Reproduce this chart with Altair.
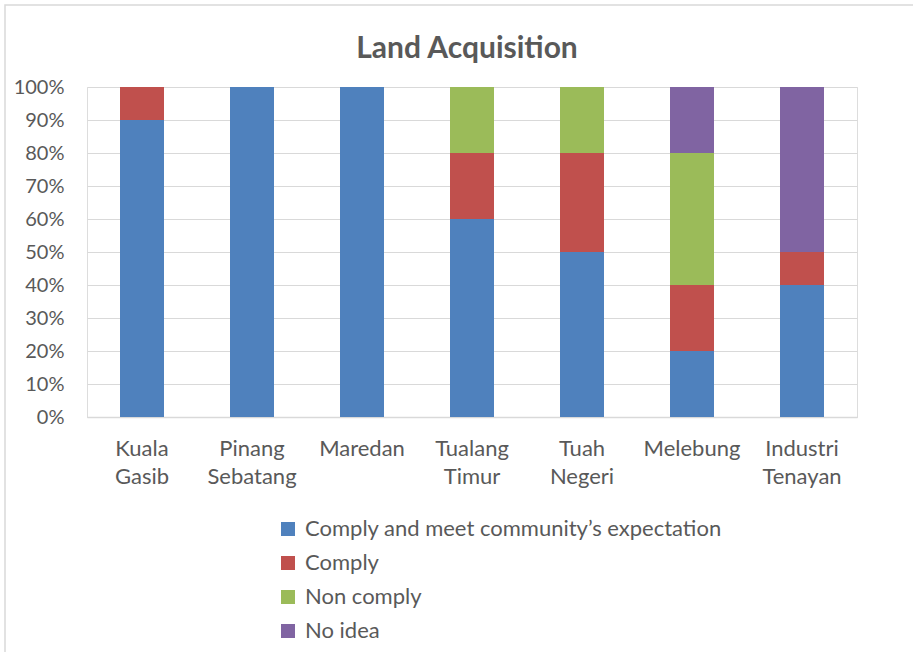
import altair as alt
import pandas as pd

title_text = "Land Acquisition"
sites = ["Kuala Gasib", "Pinang Sebatang", "Maredan", "Tualang Timur",
         "Tuah Negeri", "Melebung", "Industri Tenayan"]
categories = ["Comply and meet community\u2019s expectation", "Comply",
              "Non comply", "No idea"]
comply_meet = [90, 100, 100, 60, 50, 20, 40]
comply = [10, 0, 0, 20, 30, 20, 10]
non_comply = [0, 0, 0, 20, 20, 40, 0]
no_idea = [0, 0, 0, 0, 0, 20, 50]
colors = ["#4F81BD", "#C0504D", "#9BBB59", "#8064A2"]

series = [comply_meet, comply, non_comply, no_idea]
rows = []
for ci, (cat, vals) in enumerate(zip(categories, series)):
    for s, v in zip(sites, vals):
        rows.append({"site": s, "category": cat, "order": ci, "value": v / 100})
df = pd.DataFrame(rows)

FONT = "Lato"
GRAY = "#595959"

bars = alt.Chart(df).mark_bar().encode(
    x=alt.X("site:N", sort=sites, title=None,
            scale=alt.Scale(paddingInner=0.6, paddingOuter=0.3),
            axis=alt.Axis(labelAngle=0, labelExpr="split(datum.label, ' ')",
                          labelLineHeight=28, labelPadding=21, ticks=False,
                          domainColor="#d9d9d9", domainWidth=1.5,
                          labelFontSize=22, labelColor=GRAY, labelFont=FONT,
                          labelBaseline="top")),
    y=alt.Y("value:Q", stack="zero", title=None,
            scale=alt.Scale(domain=[0, 1]),
            axis=alt.Axis(format="%", values=[i / 10 for i in range(11)],
                          ticks=False, domain=False, labelPadding=23,
                          gridColor="#d9d9d9", gridWidth=1.2,
                          labelFontSize=20, labelColor=GRAY, labelFont=FONT)),
    color=alt.Color("category:N", scale=alt.Scale(domain=categories, range=colors),
                    legend=alt.Legend(title=None, orient="none", legendX=190,
                                      legendY=431, symbolType="square",
                                      symbolSize=196, symbolStrokeWidth=0,
                                      labelFontSize=22, labelColor=GRAY,
                                      labelFont=FONT, labelOffset=6,
                                      rowPadding=12, labelLimit=600)),
    order=alt.Order("order:Q", sort="ascending"),
)

frame = alt.Chart(pd.DataFrame({"k": [0]})).mark_rect(
    fill=None, stroke="#d9d9d9", strokeWidth=1.5
).encode(x=alt.value(-82), x2=alt.value(845), y=alt.value(-82), y2=alt.value(600))

title = alt.Chart(pd.DataFrame({"t": [title_text]})).mark_text(
    font=FONT, fontSize=30, fontWeight="bold", color=GRAY,
    align="center", baseline="alphabetic"
).encode(text="t:N", x=alt.value(380), y=alt.value(-29))

chart = alt.layer(frame, bars, title).properties(
    width=770, height=330,
    autosize=alt.AutoSizeParams(type="none"),
    padding={"left": 87, "top": 87, "right": 56, "bottom": 235},
).configure_view(stroke=None).configure(background="white")

chart.save("out.html", embed_options={"renderer": "svg", "actions": False})
